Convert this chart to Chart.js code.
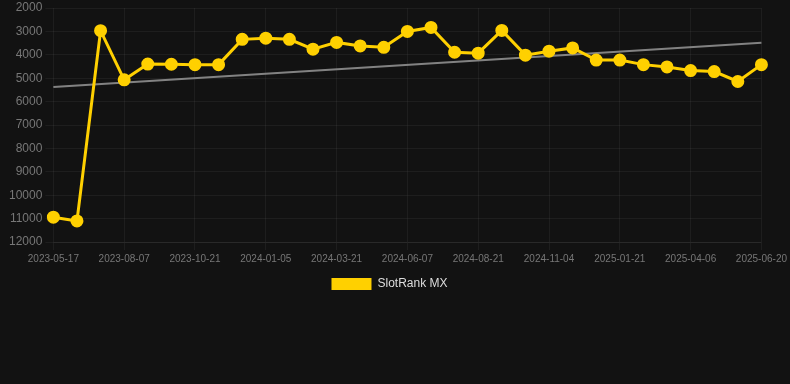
<!DOCTYPE html>
<html>
<head>
<meta charset="utf-8">
<script src="https://cdn.jsdelivr.net/npm/chart.js@4/dist/chart.umd.min.js"></script>
<style>
  html, body { margin: 0; padding: 0; background: #121212; }
  body { width: 790px; height: 384px; overflow: hidden; }
  #wrap { position: relative; width: 790px; height: 300px; }
</style>
</head>
<body>
<div id="wrap"><canvas id="rankChart"></canvas></div>
<script>
// Dates along the x axis (one per data point)
var dates = [
  '2023-05-17', '2023-06-13', '2023-07-10', '2023-08-07', '2023-09-01', '2023-09-26',
  '2023-10-21', '2023-11-15', '2023-12-10', '2024-01-05', '2024-01-30', '2024-02-24',
  '2024-03-21', '2024-04-16', '2024-05-12', '2024-06-07', '2024-07-02', '2024-07-27',
  '2024-08-21', '2024-09-15', '2024-10-10', '2024-11-04', '2024-11-30', '2024-12-26',
  '2025-01-21', '2025-02-14', '2025-03-11', '2025-04-06', '2025-04-30', '2025-05-26',
  '2025-06-20'
];

// SlotRank MX rank values
var rankValues = [
  10940, 11100, 2970, 5070, 4395, 4405, 4420, 4420, 3340, 3290, 3340,
  3760, 3470, 3620, 3680, 3000, 2830, 3890, 3930, 2960, 4015, 3845,
  3705, 4225, 4225, 4420, 4520, 4675, 4715, 5140, 4420
];

// Trend line end points
var trendStart = 5380;
var trendEnd = 3480;

// Y axis range (reversed)
var yMin = 2000;
var yMax = 12000;
var yStep = 1000;

var lineColor = '#FFD000';
var gridColor = 'rgba(255, 255, 255, 0.05)';
var tickColor = '#777777';

var ctx = document.getElementById('rankChart').getContext('2d');

var rankChart = new Chart(ctx, {
  type: 'line',
  data: {
    labels: dates,
    datasets: [
      {
        label: 'SlotRank MX',
        data: rankValues,
        borderColor: lineColor,
        backgroundColor: lineColor,
        pointBackgroundColor: lineColor,
        pointBorderColor: lineColor,
        borderWidth: 3,
        pointRadius: 5,
        tension: 0,
        fill: false,
        order: 1
      },
      {
        label: 'trend',
        data: [
          { x: dates[0], y: trendStart },
          { x: dates[dates.length - 1], y: trendEnd }
        ],
        borderColor: 'rgba(150, 150, 150, 0.85)',
        backgroundColor: 'rgba(150, 150, 150, 0.85)',
        borderWidth: 2,
        pointRadius: 0,
        tension: 0,
        fill: false,
        order: 2
      }
    ]
  },
  options: {
    responsive: true,
    maintainAspectRatio: false,
    animation: false,
    layout: {
      padding: { left: 6, right: 17, top: 0, bottom: 0 }
    },
    plugins: {
      legend: {
        position: 'bottom',
        labels: {
          color: '#dddddd',
          boxWidth: 40,
          boxHeight: 12,
          font: { size: 12 },
          filter: function(item) {
            return item.text !== 'trend';
          },
          generateLabels: function(chart) {
            var items = Chart.defaults.plugins.legend.labels.generateLabels(chart);
            items.forEach(function(item) {
              item.lineWidth = 0;
              item.strokeStyle = 'rgba(0,0,0,0)';
            });
            return items;
          }
        }
      },
      tooltip: { enabled: false }
    },
    scales: {
      x: {
        grid: {
          color: gridColor
        },
        border: {
          color: gridColor
        },
        ticks: {
          color: tickColor,
          maxRotation: 0,
          minRotation: 0,
          autoSkip: true,
          maxTicksLimit: 11,
          font: { size: 10 }
        }
      },
      y: {
        reverse: true,
        min: yMin,
        max: yMax,
        grid: {
          color: gridColor
        },
        border: {
          display: false
        },
        ticks: {
          stepSize: yStep,
          color: tickColor,
          font: { size: 12, lineHeight: 0.6 },
          callback: function(value) {
            return String(value);
          }
        }
      }
    }
  }
});
</script>
</body>
</html>
